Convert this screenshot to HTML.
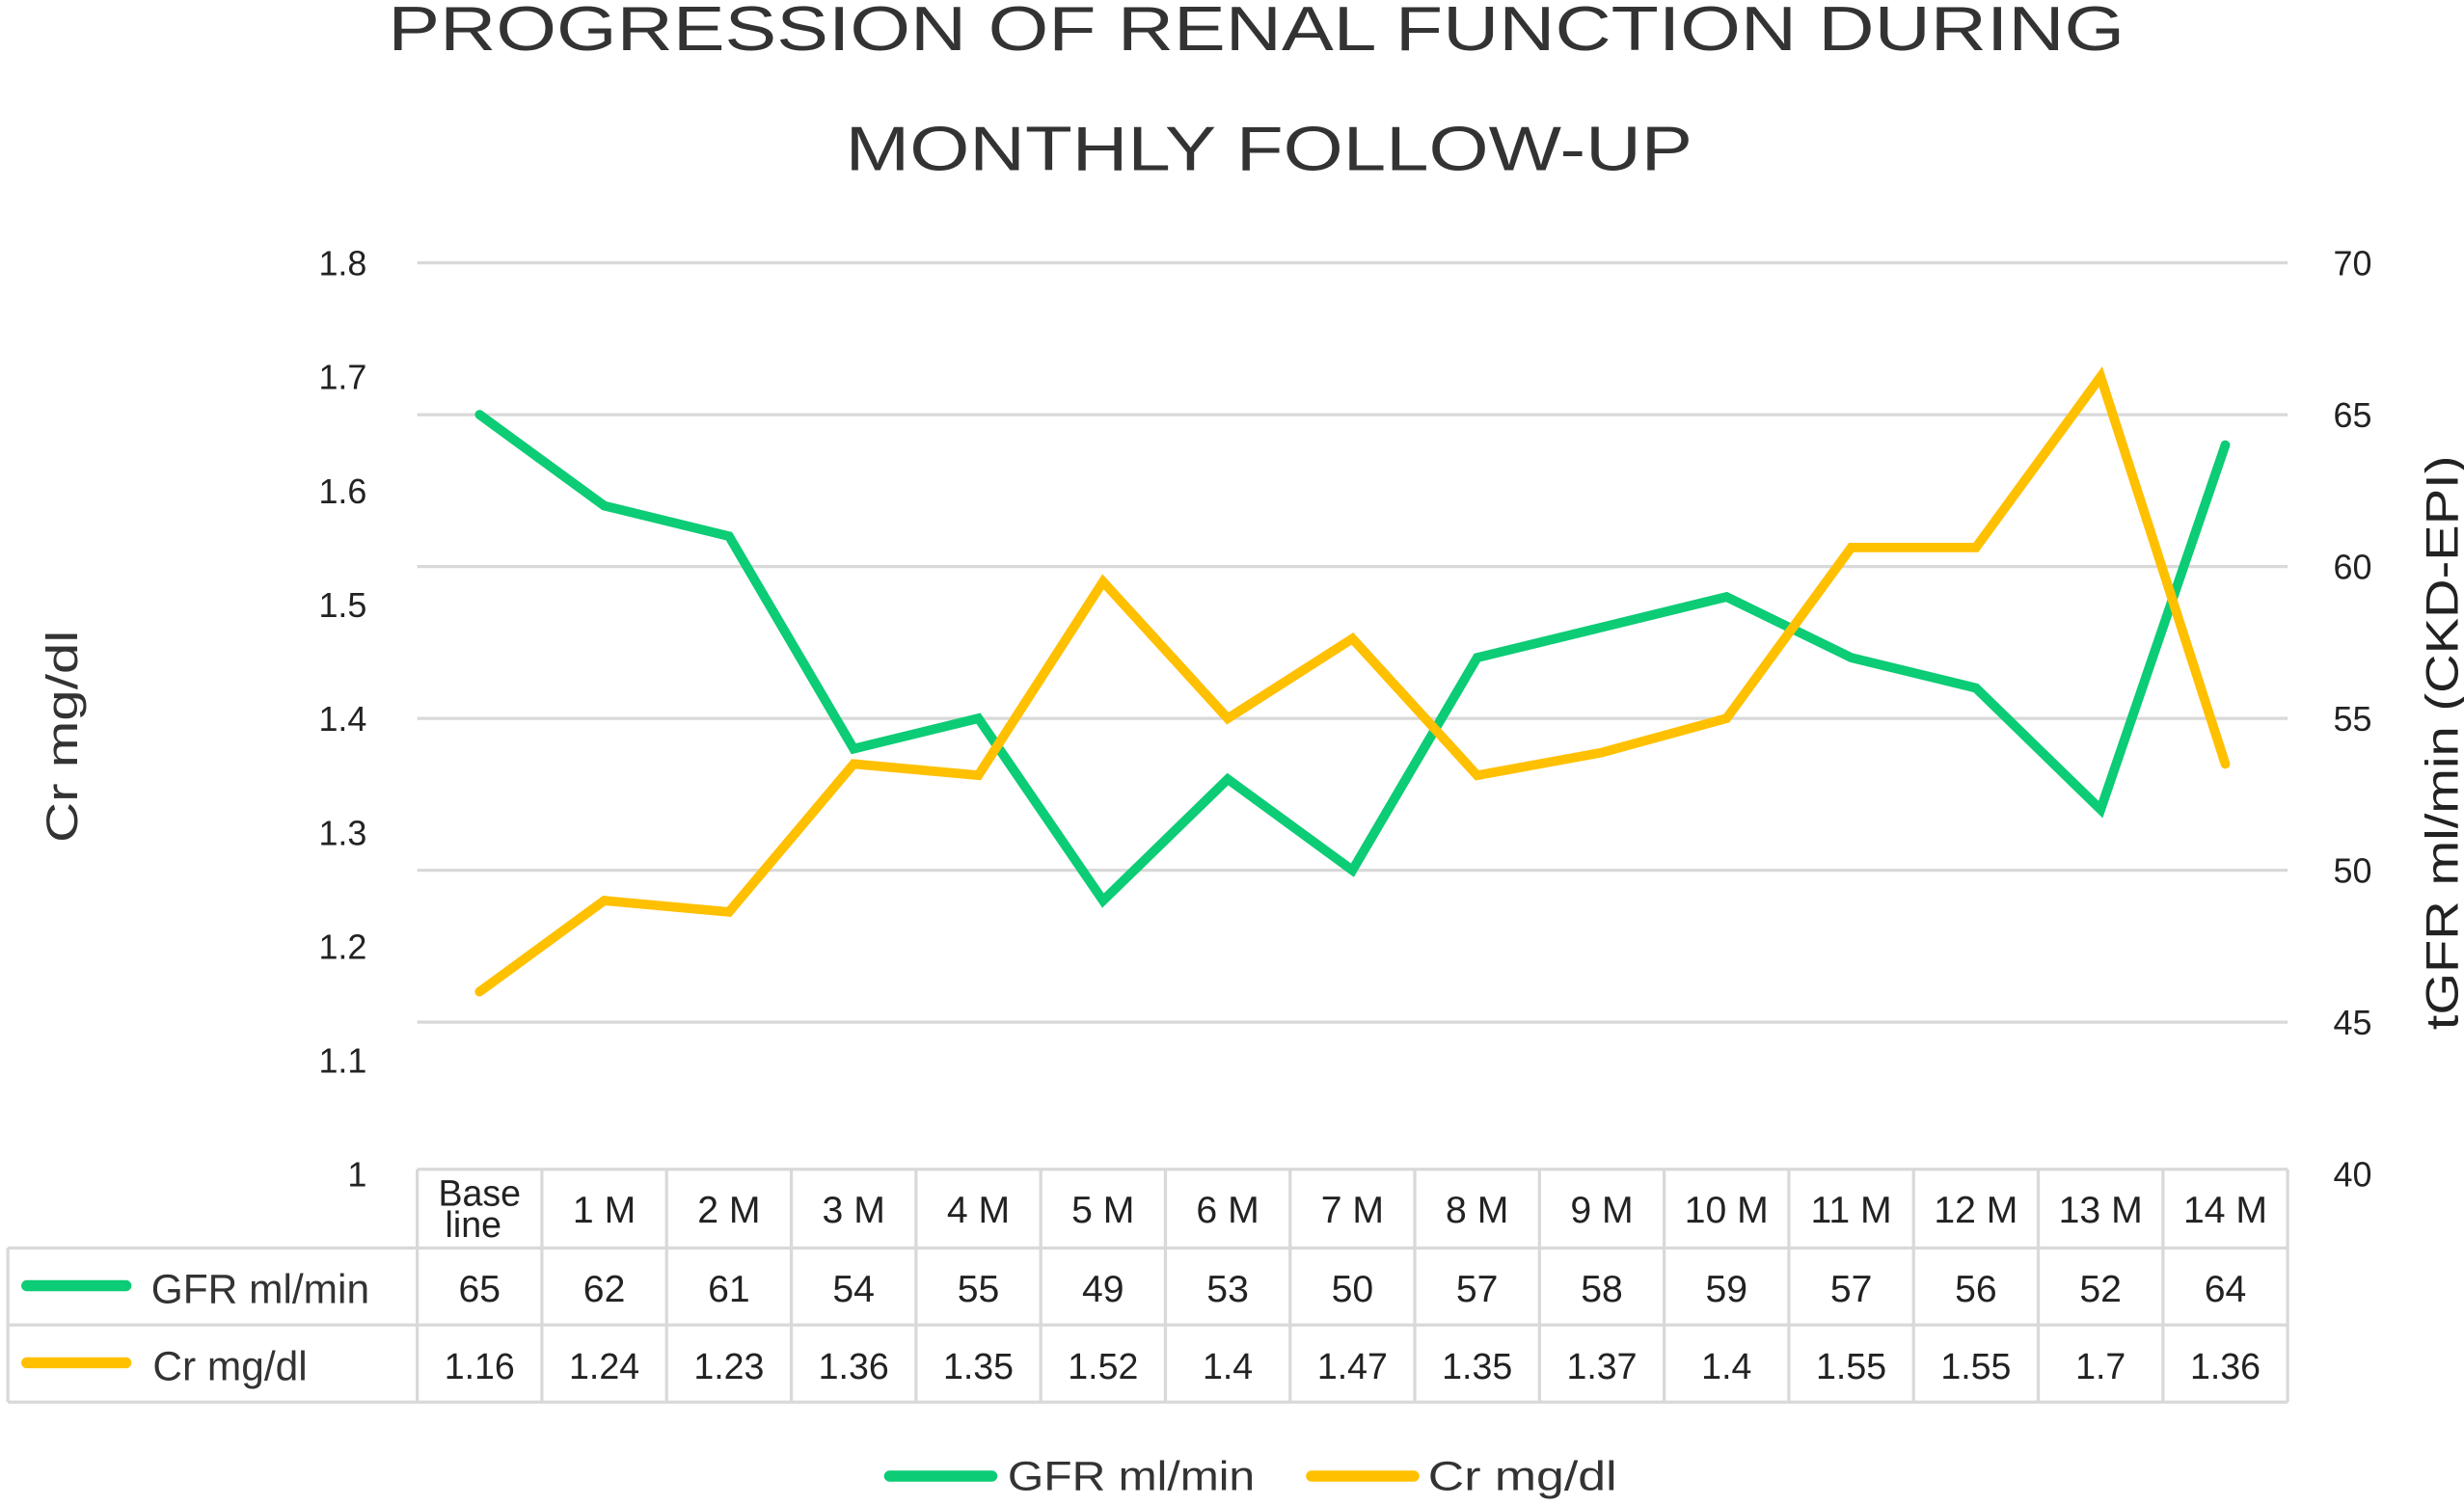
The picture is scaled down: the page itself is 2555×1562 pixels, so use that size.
<!DOCTYPE html>
<html><head><meta charset="utf-8"><style>
html,body{margin:0;padding:0;background:#fff;}
svg{display:block;font-family:"Liberation Sans",sans-serif;}
</style></head><body>
<svg id="chart" width="2555" height="1562" viewBox="0 0 1565 957" preserveAspectRatio="none" xmlns="http://www.w3.org/2000/svg">
<text x="798" y="32" text-anchor="middle" font-size="40" fill="#333" textLength="1103" lengthAdjust="spacingAndGlyphs">PROGRESSION OF RENAL FUNCTION DURING</text>
<text x="806" y="108" text-anchor="middle" font-size="40" fill="#333" textLength="538" lengthAdjust="spacingAndGlyphs">MONTHLY FOLLOW-UP</text>
<g id="grid"></g>
<g id="laxis"></g>
<g id="raxis"></g>
<text transform="translate(49,468) rotate(-90)" text-anchor="middle" font-size="28" fill="#333" textLength="135" lengthAdjust="spacingAndGlyphs">Cr mg/dl</text>
<text transform="translate(1561,472) rotate(-90)" text-anchor="middle" font-size="29" fill="#222" textLength="365" lengthAdjust="spacingAndGlyphs">tGFR ml/min (CKD-EPI)</text>
<g id="series"></g>
<g id="table"></g>
<g>
  <line x1="565" y1="938" x2="630" y2="938" stroke="#0ccc75" stroke-width="7" stroke-linecap="round"/>
  <text x="640" y="947" font-size="26" fill="#333" textLength="157" lengthAdjust="spacingAndGlyphs">GFR ml/min</text>
  <line x1="833" y1="938" x2="898" y2="938" stroke="#ffc000" stroke-width="7" stroke-linecap="round"/>
  <text x="907" y="947" font-size="26" fill="#333" textLength="120" lengthAdjust="spacingAndGlyphs">Cr mg/dl</text>
</g>
</svg>
<script>
const categories = ["Base line","1 M","2 M","3 M","4 M","5 M","6 M","7 M","8 M","9 M","10 M","11 M","12 M","13 M","14 M"];
const gfrValues = [65,62,61,54,55,49,53,50,57,58,59,57,56,52,64];
const crValues = [1.16,1.24,1.23,1.36,1.35,1.52,1.4,1.47,1.35,1.37,1.4,1.55,1.55,1.7,1.36];
const leftTicks = [1,1.1,1.2,1.3,1.4,1.5,1.6,1.7,1.8];
const rightTicks = [40,45,50,55,60,65,70];

const NS = "http://www.w3.org/2000/svg";
const plotL = 265, plotR = 1453, plotT = 167, plotB = 746;
const colW = (plotR - plotL) / categories.length;
const xPos = i => plotL + colW * (i + 0.5);
const yLeft = v => plotB - (v - 1) / 0.8 * (plotB - plotT);
const yRight = v => plotB - (v - 40) / 30 * (plotB - plotT);
function mk(tag, attrs, parent, text){
  const e = document.createElementNS(NS, tag);
  for (const k in attrs) e.setAttribute(k, attrs[k]);
  if (text !== undefined) e.textContent = text;
  parent.appendChild(e);
  return e;
}
const grid = document.getElementById('grid');
rightTicks.forEach(t => {
  if (t === 40) return;
  const l = mk('line', {x1: plotL, x2: plotR, y1: yRight(t), y2: yRight(t), stroke: '#d9d9d9', 'stroke-width': 2}, grid);
  
  
});
const la = document.getElementById('laxis');
leftTicks.forEach(t => {
  const e = mk('text', {x: 233, y: yLeft(t) + 8, 'text-anchor': 'end', 'font-size': 22, fill: '#222'}, la, String(t));
  
  
});
const ra = document.getElementById('raxis');
rightTicks.forEach(t => {
  const e = mk('text', {x: 1482, y: yRight(t) + 8, 'font-size': 22, fill: '#222'}, ra, String(t));
  
  
});
const ser = document.getElementById('series');
const gl = mk('polyline', {points: gfrValues.map((v,i) => xPos(i) + ',' + yRight(v)).join(' '), fill: 'none', stroke: '#0ccc75', 'stroke-width': 6, 'stroke-linejoin': 'miter', 'stroke-linecap': 'round'}, ser);


const cl = mk('polyline', {points: crValues.map((v,i) => xPos(i) + ',' + yLeft(v)).join(' '), fill: 'none', stroke: '#ffc000', 'stroke-width': 6, 'stroke-linejoin': 'miter', 'stroke-linecap': 'round'}, ser);



// table
const tb = document.getElementById('table');
const rT = 743, r1 = 793, r2 = 842, r3 = 891, tL = 5;
const bs = {stroke: '#d9d9d9', 'stroke-width': 2};
[[plotL, rT, plotR, rT],[tL, r1, plotR, r1],[tL, r2, plotR, r2],[tL, r3, plotR, r3],[tL, r1, tL, r3]].forEach(c => {
  const l = mk('line', Object.assign({x1: c[0], y1: c[1], x2: c[2], y2: c[3]}, bs), tb);
  
  
});
for (let i = 0; i <= categories.length; i++) {
  const x = plotL + colW * i;
  const l = mk('line', Object.assign({x1: x, y1: rT, x2: x, y2: r3}, bs), tb);
  
  
}
categories.forEach((c, i) => {
  let e;
  if (c === "Base line") {
    e = mk('text', {x: xPos(i), y: 766, 'text-anchor': 'middle', 'font-size': 23, fill: '#222'}, tb);
    mk('tspan', {x: xPos(i), dy: 0}, e, 'Base');
    mk('tspan', {x: xPos(i) - 4, dy: 20}, e, 'line');
  } else {
    e = mk('text', {x: xPos(i), y: 777, 'text-anchor': 'middle', 'font-size': 24, fill: '#222'}, tb, c);
  }
  
  
  const g = mk('text', {x: xPos(i), y: 827, 'text-anchor': 'middle', 'font-size': 24, fill: '#222'}, tb, String(gfrValues[i]));
  
  
  const r = mk('text', {x: xPos(i), y: 876, 'text-anchor': 'middle', 'font-size': 23, fill: '#222'}, tb, String(crValues[i]));
  
  
});
const s1 = mk('line', {x1: 17, y1: 817, x2: 80, y2: 817, stroke: '#0ccc75', 'stroke-width': 7, 'stroke-linecap': 'round'}, tb);


const t1 = mk('text', {x: 96, y: 828, 'font-size': 26, fill: '#333'}, tb, 'GFR ml/min');


const s2 = mk('line', {x1: 17, y1: 866, x2: 80, y2: 866, stroke: '#ffc000', 'stroke-width': 7, 'stroke-linecap': 'round'}, tb);


const t2 = mk('text', {x: 97, y: 877, 'font-size': 26, fill: '#333'}, tb, 'Cr mg/dl');


</script>
</body></html>
